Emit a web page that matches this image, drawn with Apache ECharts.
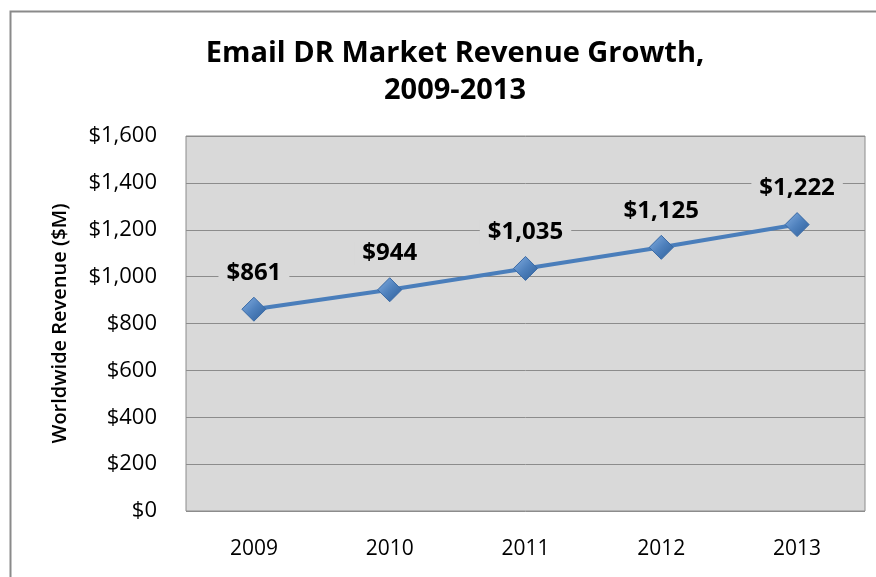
<!DOCTYPE html>
<html>
<head>
<meta charset="utf-8">
<script src="https://cdn.jsdelivr.net/npm/echarts@6/dist/echarts.min.js"></script>
<style>
  html, body { margin: 0; padding: 0; background: #fff; }
  #chart { width: 876px; height: 577px; }
</style>
</head>
<body>
<div id="chart"></div>
<script>
// data
const years = ["2009", "2010", "2011", "2012", "2013"];
const revenue = [861, 944, 1035, 1125, 1222];
const yTicks = { min: 0, max: 1600, interval: 200 };

const font = "Open Sans";
let myChart = echarts.init(document.getElementById("chart"));
const option = {
  backgroundColor: "#fff",
  animation: false,
  title: {
    text: "Email DR Market Revenue Growth,\n2009-2013",
    left: 450,
    top: 30,
    textAlign: "center",
    textStyle: {
      fontFamily: font,
      fontSize: 29,
      fontWeight: "bold",
      color: "#000",
      lineHeight: 37
    }
  },
  graphic: [
    {
      type: "rect",
      shape: { x: 10.5, y: 11.5, width: 900, height: 600 },
      style: { fill: null, stroke: "#8a8a8a", lineWidth: 2 },
      z: 100
    }
  ],
  grid: {
    left: 186,
    right: 11,
    top: 136,
    bottom: 66,
    show: true,
    backgroundColor: "#d9d9d9",
    borderColor: "#8c8c8c",
    borderWidth: 1
  },
  xAxis: {
    type: "category",
    data: years,
    boundaryGap: true,
    axisLine: { show: false },
    axisTick: { show: false },
    axisLabel: {
      fontFamily: font,
      fontSize: 21,
      color: "#000",
      margin: 28
    }
  },
  yAxis: {
    type: "value",
    min: yTicks.min,
    max: yTicks.max,
    interval: yTicks.interval,
    name: "Worldwide Revenue ($M)",
    nameLocation: "middle",
    nameGap: 116,
    nameRotate: 90,
    nameTextStyle: {
      fontFamily: font,
      fontSize: 20,
      fontWeight: 600,
      color: "#000"
    },
    axisLine: { show: false },
    axisTick: { show: false },
    splitLine: { lineStyle: { color: "#8c8c8c", width: 1 } },
    axisLabel: {
      fontFamily: font,
      fontSize: 22,
      color: "#000",
      margin: 29,
      formatter: v => "$" + v.toLocaleString("en-US")
    }
  },
  series: [
    {
      type: "line",
      data: revenue,
      symbol: "diamond",
      symbolSize: 24,
      lineStyle: { color: "#4a7ebb", width: 4 },
      itemStyle: {
        color: new echarts.graphic.LinearGradient(0, 0, 1, 1, [
          { offset: 0, color: "#86b0e2" },
          { offset: 0.5, color: "#4f81bd" },
          { offset: 1, color: "#2c5d98" }
        ]),
        borderColor: "#3a6aa5",
        borderWidth: 1
      },
      label: {
        show: true,
        position: "top",
        distance: 12,
        fontFamily: font,
        fontSize: 24,
        fontWeight: "bold",
        color: "#000",
        backgroundColor: "#d9d9d9",
        padding: [0, 8],
        formatter: p => "$" + p.value.toLocaleString("en-US")
      }
    }
  ]
};
myChart.setOption(option);
</script>
</body>
</html>
